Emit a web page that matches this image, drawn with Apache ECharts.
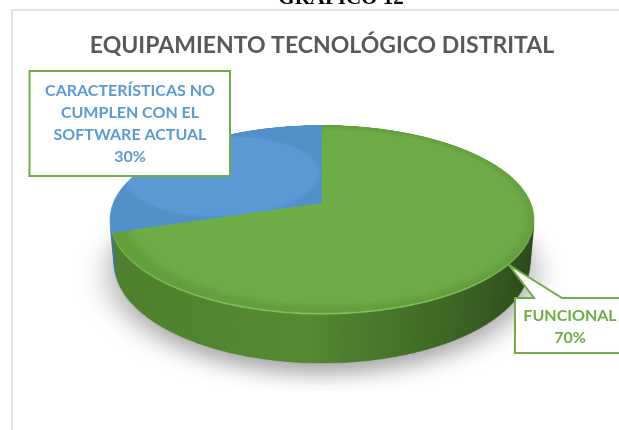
<!DOCTYPE html>
<html>
<head>
<meta charset="utf-8">
<script src="https://cdn.jsdelivr.net/npm/echarts@6/dist/echarts.min.js"></script>
<style>
html,body{margin:0;padding:0;background:#fff;width:619px;height:430px;overflow:hidden;}
#stage{position:absolute;left:0;top:0;width:619px;height:430px;}
#over{position:absolute;left:0;top:0;width:619px;height:430px;z-index:10;}
</style>
</head>
<body>
<div id="stage"></div>
<div id="over"></div>
<script>
// ---- data ----
const categories = ['FUNCIONAL', 'CARACTERÍSTICAS NO CUMPLEN CON EL SOFTWARE ACTUAL'];
const values = [70, 30];
const chartTitle = 'EQUIPAMIENTO TECNOLÓGICO DISTRITAL';
const figureCaption = 'GRÁFICO 12';

// ---- geometry / styles ----
const R = 209, PAD = 40, W = 2 * R + 2 * PAD;
const CX = 322, CY = 203;          // projected pie centre on the page
const PERSP = 1106, TILT = 64.1;   // 3D view
const DEPTH = 50;                  // pie thickness
const topColors = [
  new echarts.graphic.RadialGradient(0.5, 0.5, 0.5, [
    {offset: 0, color: '#6fad46'}, {offset: 0.94, color: '#6dab45'}, {offset: 1, color: '#629f3d'}]),
  new echarts.graphic.RadialGradient(0.5, 0.5, 0.5, [
    {offset: 0, color: '#5b9bd5'}, {offset: 0.94, color: '#5a99d3'}, {offset: 1, color: '#5190c9'}])
];
const sideColors = [
  new echarts.graphic.LinearGradient(0, 0, 1, 0, [
    {offset: 0, color: '#4d7f2c'}, {offset: 0.45, color: '#558932'},
    {offset: 0.72, color: '#406a25'}, {offset: 1, color: '#2a4518'}]),
  '#3f74a6'
];
const rimColors = ['#84c258', '#6eaee3'];
const total = values.reduce((a, b) => a + b, 0);

function pieData(colors, extra) {
  return categories.map((c, i) => ({
    name: c, value: values[i],
    itemStyle: Object.assign({color: colors[i], borderWidth: 0}, extra || {})
  }));
}
const stage = document.getElementById('stage');
function makeLayer(k, colors, extra) {
  const div = document.createElement('div');
  div.style.cssText = 'position:absolute;left:' + (CX - W / 2) + 'px;top:' + (CY - W / 2) + 'px;width:' + W +
    'px;height:' + W + 'px;transform-origin:50% 50%;transform:perspective(' + PERSP + 'px) rotateX(' + TILT +
    'deg) translateZ(' + (-k) + 'px);';
  stage.appendChild(div);
  const ch = echarts.init(div);
  ch.setOption({
    animation: false,
    series: [{
      type: 'pie', center: [W / 2, W / 2], radius: [0, R], startAngle: 90, clockwise: true,
      silent: true, label: {show: false}, labelLine: {show: false}, emphasis: {disabled: true},
      data: pieData(colors, extra)
    }]
  });
}
makeLayer(DEPTH, sideColors, {shadowBlur: 30, shadowColor: 'rgba(0,0,0,0.35)', shadowOffsetY: 16});
for (let k = DEPTH - 2; k >= 3; k -= 2) makeLayer(k, sideColors);
makeLayer(1.5, rimColors);
makeLayer(0, topColors);

// ---- overlay: frame, titles, callouts ----
const pct = values.map(v => Math.round(v / total * 100) + '%');
const over = echarts.init(document.getElementById('over'));
const labelFont = 'Lato';
over.setOption({
  animation: false,
  graphic: [
    {type: 'rect', shape: {x: 12, y: 10, width: 640, height: 450},
     style: {fill: 'none', stroke: '#d9d9d9', lineWidth: 1.5}},
    {type: 'text', style: {text: figureCaption, x: 341, y: -1, align: 'center', verticalAlign: 'middle',
      font: 'bold 21px "Liberation Serif"', fill: '#000'}},
    {type: 'text', style: {text: chartTitle, x: 322, y: 46, align: 'center', verticalAlign: 'middle',
      font: 'bold 23px Lato', fill: '#595959'}},
    // blue callout
    {type: 'rect', shape: {x: 29.5, y: 71, width: 200.5, height: 105},
     style: {fill: '#fff', stroke: '#70ad47', lineWidth: 2}},
    {type: 'text', style: {text: categories[1] + '\n' + pct[1], x: 130, y: 124, align: 'center',
      verticalAlign: 'middle', width: 185, overflow: 'break', lineHeight: 22,
      font: 'bold 16px ' + labelFont, fill: '#5b9bd5'}},
    // green callout with pointer
    {type: 'polygon', shape: {points: [[515, 298], [534, 298], [509, 265], [562, 298], [625, 298], [625, 353], [515, 353]]},
     style: {fill: '#fff', stroke: '#70ad47', lineWidth: 2}},
    {type: 'text', style: {text: categories[0] + '\n' + pct[0], x: 570, y: 327, align: 'center',
      verticalAlign: 'middle', lineHeight: 22, font: 'bold 16px ' + labelFont, fill: '#70ad47'}}
  ]
});
</script>
</body>
</html>
